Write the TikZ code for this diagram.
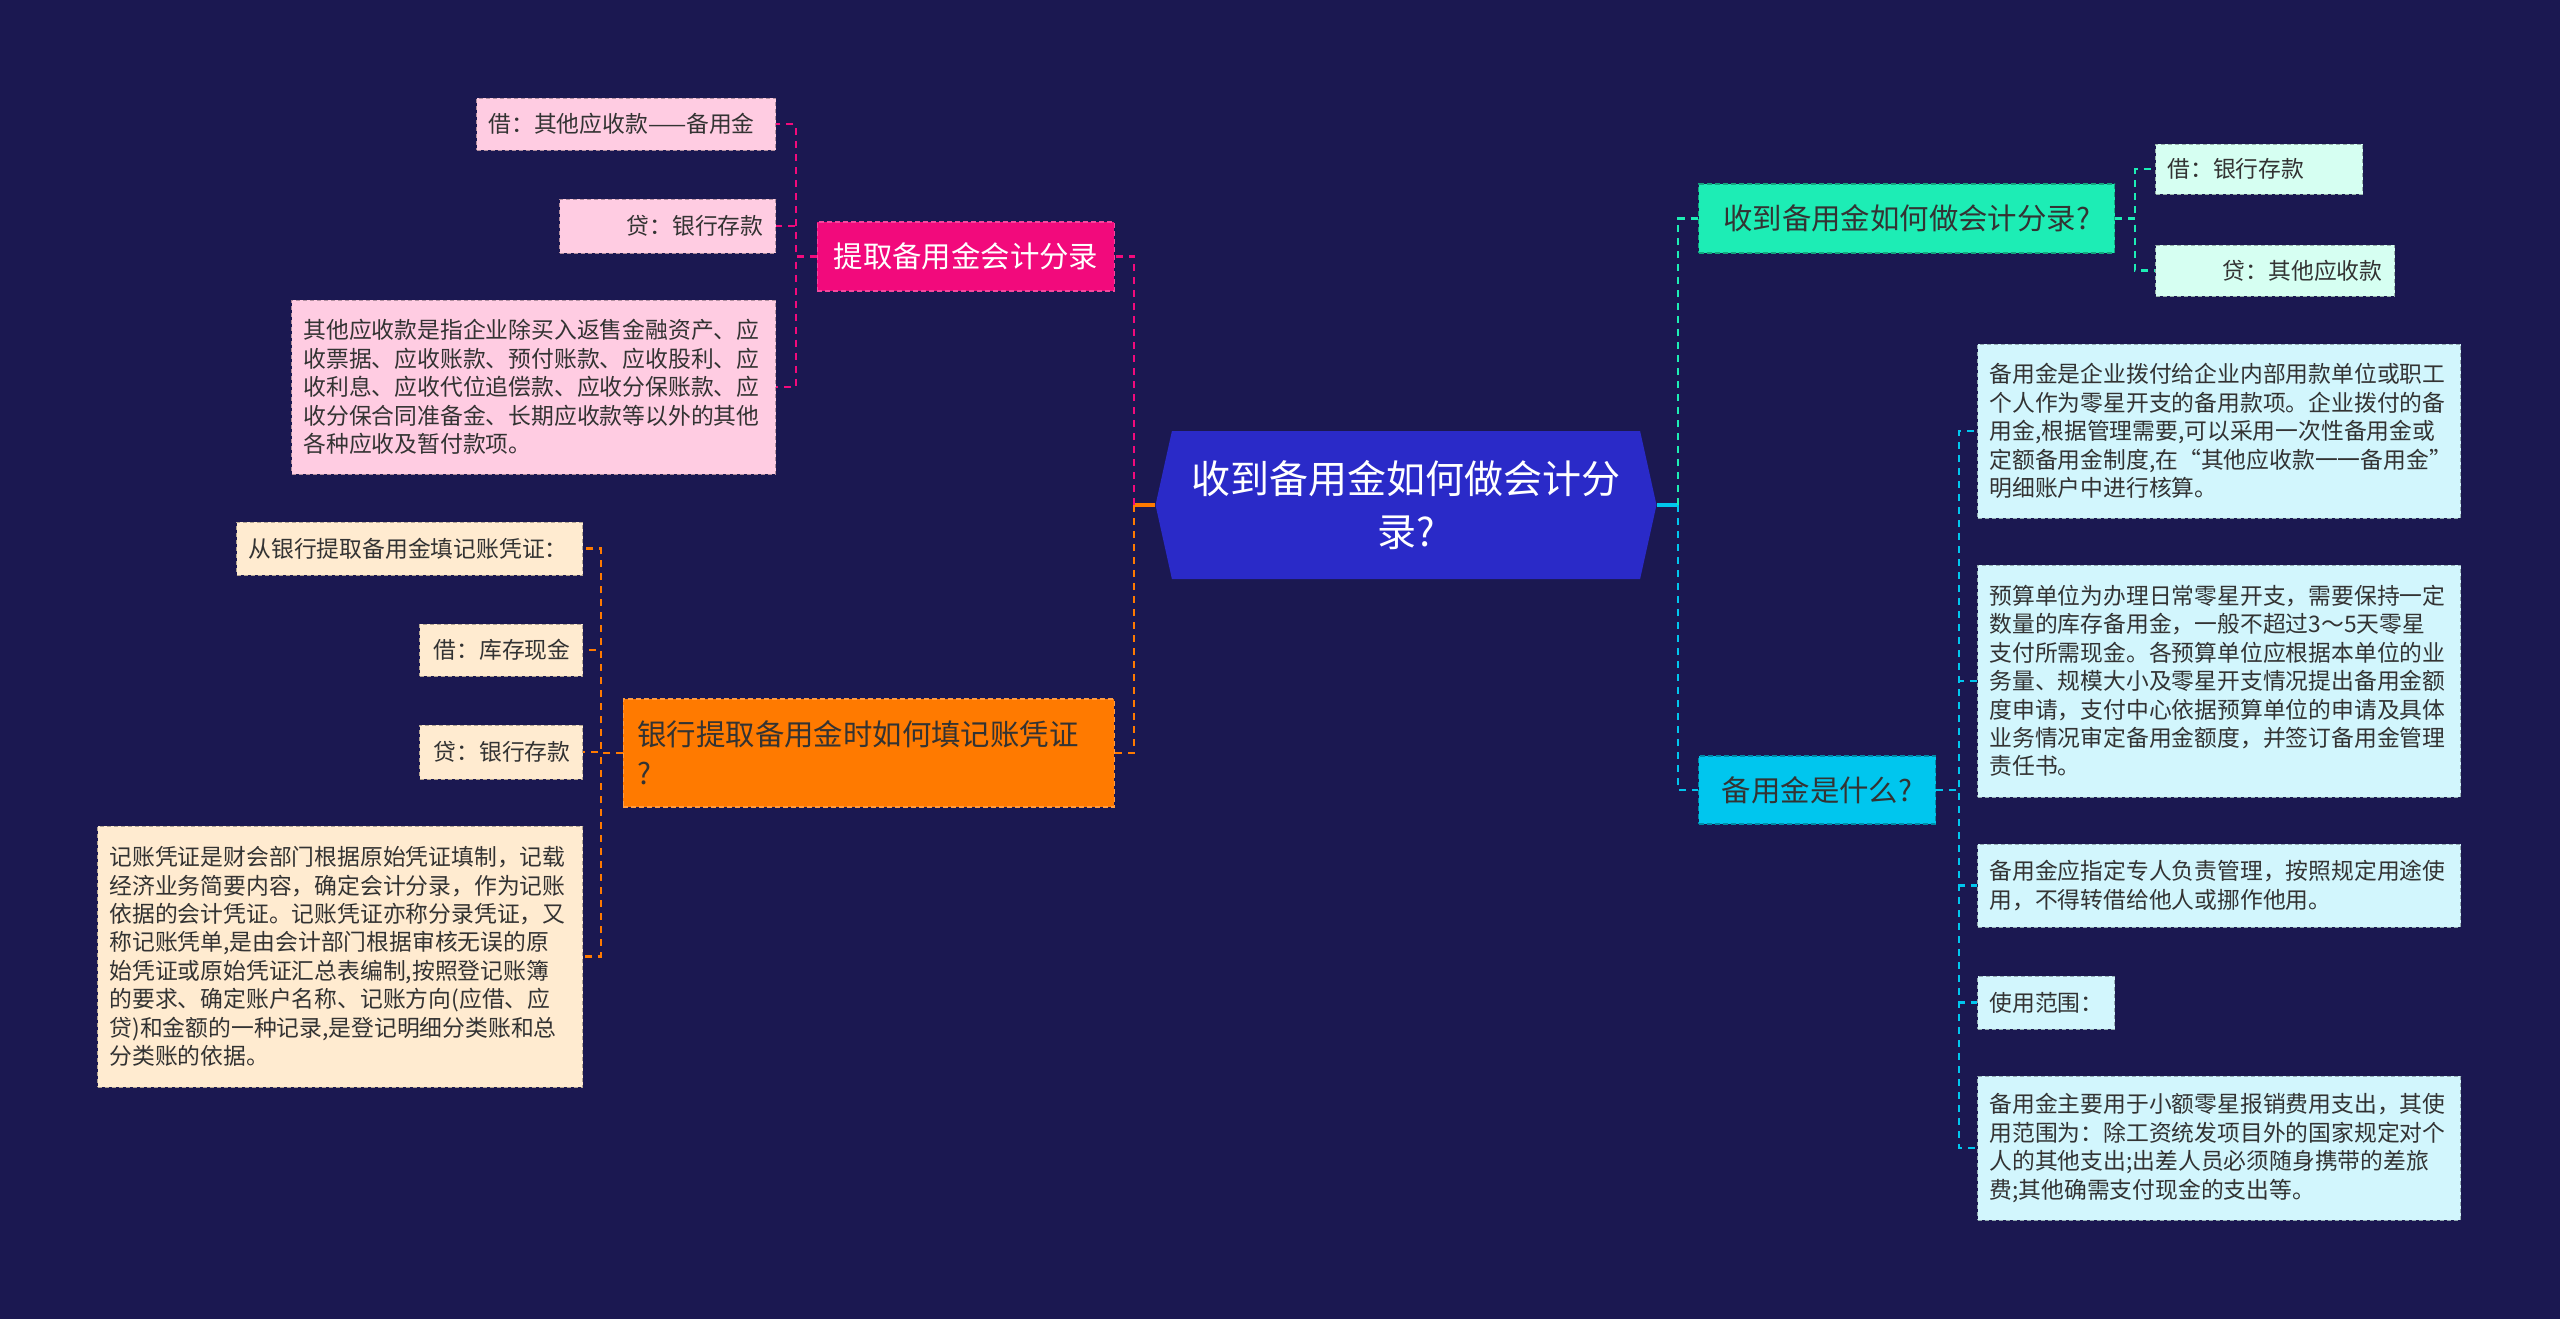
\documentclass[tikz,border=0pt]{standalone}
\usepackage{fontspec}
\setmainfont{Noto Sans CJK SC}
\usepackage{xcolor}
\usetikzlibrary{shapes.symbols}
\definecolor{bg}{HTML}{1B1851}
\definecolor{rootblue}{HTML}{2A2AC8}
\definecolor{mg}{HTML}{F20A7C}
\definecolor{og}{HTML}{FF7A00}
\definecolor{tl}{HTML}{1DEDB5}
\definecolor{cy}{HTML}{00C6EE}
\definecolor{pk}{HTML}{FFCCE2}
\definecolor{pc}{HTML}{FFEBD0}
\definecolor{mt}{HTML}{D6FFF2}
\definecolor{lc}{HTML}{D2F6FD}
\definecolor{ink}{HTML}{333333}
\newcommand{\leaffont}{\fontsize{11.4}{14.2}\selectfont}
\newcommand{\branchfont}{\fontsize{14.7}{19.6}\selectfont}
\newcommand{\rootfont}{\fontsize{19.5}{26.5}\selectfont}
\tikzset{
  rootnode/.style={signal,signal to=west and east,signal pointer angle=155,fill=rootblue,text=white,font=\rootfont,align=center,minimum width=250.5pt,minimum height=74pt,inner sep=0pt},
  branch/.style={font=\branchfont,text=ink,inner xsep=7pt,inner ysep=0pt,dashed,line width=0.6pt,dash pattern=on 2.5pt off 1.5pt},
  leaf/.style={font=\leaffont,text=ink,inner xsep=6pt,inner ysep=0pt,line width=0.5pt,dash pattern=on 2pt off 1.5pt},
  pkleaf/.style={leaf,fill=pk,draw=pk!70!black},
  pcleaf/.style={leaf,fill=pc,draw=pc!70!black},
  mtleaf/.style={leaf,fill=mt,draw=mt!70!black},
  lcleaf/.style={leaf,fill=lc,draw=lc!70!black},
  lk/.style={line width=1.2pt,dash pattern=on 3.5pt off 3pt},
  stub/.style={line width=1.6pt}
}

\begin{document}
\begin{tikzpicture}[x=0.5pt,y=-0.5pt]
\fill[bg] (0,0) rectangle (2560,1319);
\useasboundingbox (0,0) rectangle (2560,1319);
% centre
\node[rootnode] (root) at (1406,505) {收到备用金如何做会计分\\录?};
% left branches
\node[branch,fill=mg,draw=mg!75!white,text=white,anchor=east,minimum width=148.5pt,minimum height=34.5pt] (bq) at (1115,256.5) {提取备用金会计分录};
\node[branch,fill=og,draw=og!75!white,anchor=east,minimum height=54pt,text width=231.5pt,align=left] (yh) at (1115,753) {银行提取备用金时如何填记账凭证\\?};
\node[pkleaf,anchor=east,minimum height=26pt,text width=137.5pt,align=left] (l1) at (776,124) {借：其他应收款——备用金};
\node[pkleaf,anchor=east,minimum height=27pt,text width=96pt,align=right] (l2) at (776,226) {贷：银行存款};
\node[pkleaf,anchor=east,minimum height=87pt,text width=230pt,align=left] (l3) at (776,387) {其他应收款是指企业除买入返售金融资产、应\\收票据、应收账款、预付账款、应收股利、应\\收利息、应收代位追偿款、应收分保账款、应\\收分保合同准备金、长期应收款等以外的其他\\各种应收及暂付款项。};
\node[pcleaf,anchor=east,minimum height=26.5pt,text width=161pt,align=left] (o1) at (583,548.5) {从银行提取备用金填记账凭证：};
\node[pcleaf,anchor=east,minimum height=26pt,text width=69.5pt,align=right] (o2) at (583,650) {借：库存现金};
\node[pcleaf,anchor=east,minimum height=27pt,text width=69.5pt,align=right] (o3) at (583,752) {贷：银行存款};
\node[pcleaf,anchor=east,minimum height=130.5pt,text width=230.5pt,align=left] (o4) at (583,956.5) {记账凭证是财会部门根据原始凭证填制，记载\\经济业务简要内容，确定会计分录，作为记账\\依据的会计凭证。记账凭证亦称分录凭证，又\\称记账凭单,是由会计部门根据审核无误的原\\始凭证或原始凭证汇总表编制,按照登记账簿\\的要求、确定账户名称、记账方向(应借、应\\贷)和金额的一种记录,是登记明细分类账和总\\分类账的依据。};
% right branches
\node[branch,fill=tl,draw=tl!70!black,anchor=west,minimum width=208pt,minimum height=34.5pt] (sq) at (1698,218.5) {收到备用金如何做会计分录?};
\node[branch,fill=cy,draw=cy!70!black,anchor=west,minimum width=118.5pt,minimum height=34pt] (bz) at (1698,790) {备用金是什么?};
\node[mtleaf,anchor=west,minimum height=25pt,text width=91.5pt,align=left] (m1) at (2155,169) {借：银行存款};
\node[mtleaf,anchor=west,minimum height=25.5pt,text width=107.5pt,align=right] (m2) at (2155,270.5) {贷：其他应收款};
\node[lcleaf,anchor=west,minimum height=87pt,text width=229.5pt,align=left] (c1) at (1977,431) {备用金是企业拨付给企业内部用款单位或职工\\个人作为零星开支的备用款项。企业拨付的备\\用金,根据管理需要,可以采用一次性备用金或\\定额备用金制度,在“其他应收款一一备用金”\\明细账户中进行核算。};
\node[lcleaf,anchor=west,minimum height=116pt,text width=229.5pt,align=left] (c2) at (1977,681) {预算单位为办理日常零星开支，需要保持一定\\数量的库存备用金，一般不超过3～5天零星\\支付所需现金。各预算单位应根据本单位的业\\务量、规模大小及零星开支情况提出备用金额\\度申请，支付中心依据预算单位的申请及具体\\业务情况审定备用金额度，并签订备用金管理\\责任书。};
\node[lcleaf,anchor=west,minimum height=41.5pt,text width=229.5pt,align=left] (c3) at (1977,885.5) {备用金应指定专人负责管理，按照规定用途使\\用，不得转借给他人或挪作他用。};
\node[lcleaf,anchor=west,minimum height=26.5pt,text width=56.5pt,align=left] (c4) at (1977,1002.5) {使用范围：};
\node[lcleaf,anchor=west,minimum height=72pt,text width=229.5pt,align=left] (c5) at (1977,1148) {备用金主要用于小额零星报销费用支出，其使\\用范围为：除工资统发项目外的国家规定对个\\人的其他支出;出差人员必须随身携带的差旅\\费;其他确需支付现金的支出等。};
% connectors
\coordinate (jl) at (1134,505);
\coordinate (jr) at (1678,505);
\draw[stub,og] (root.west) -- (jl);
\draw[lk,mg] (jl) |- (bq.east);
\draw[lk,og] (jl) |- (yh.east);
\draw[stub,cy] (root.east) -- (jr);
\draw[lk,tl] (jr) |- (sq.west);
\draw[lk,cy] (jr) |- (bz.west);
\foreach \n in {l1,l2,l3} \draw[lk,mg] (bq.west) -- ++(-21,0) |- (\n.east);
\foreach \n in {o1,o2,o3,o4} \draw[lk,og] (yh.west) -- ++(-22,0) |- (\n.east);
\foreach \n in {m1,m2} \draw[lk,tl] (sq.east) -- ++(20,0) |- (\n.west);
\foreach \n in {c1,c2,c3,c4,c5} \draw[lk,cy] (bz.east) -- ++(23,0) |- (\n.west);
\end{tikzpicture}
\end{document}
